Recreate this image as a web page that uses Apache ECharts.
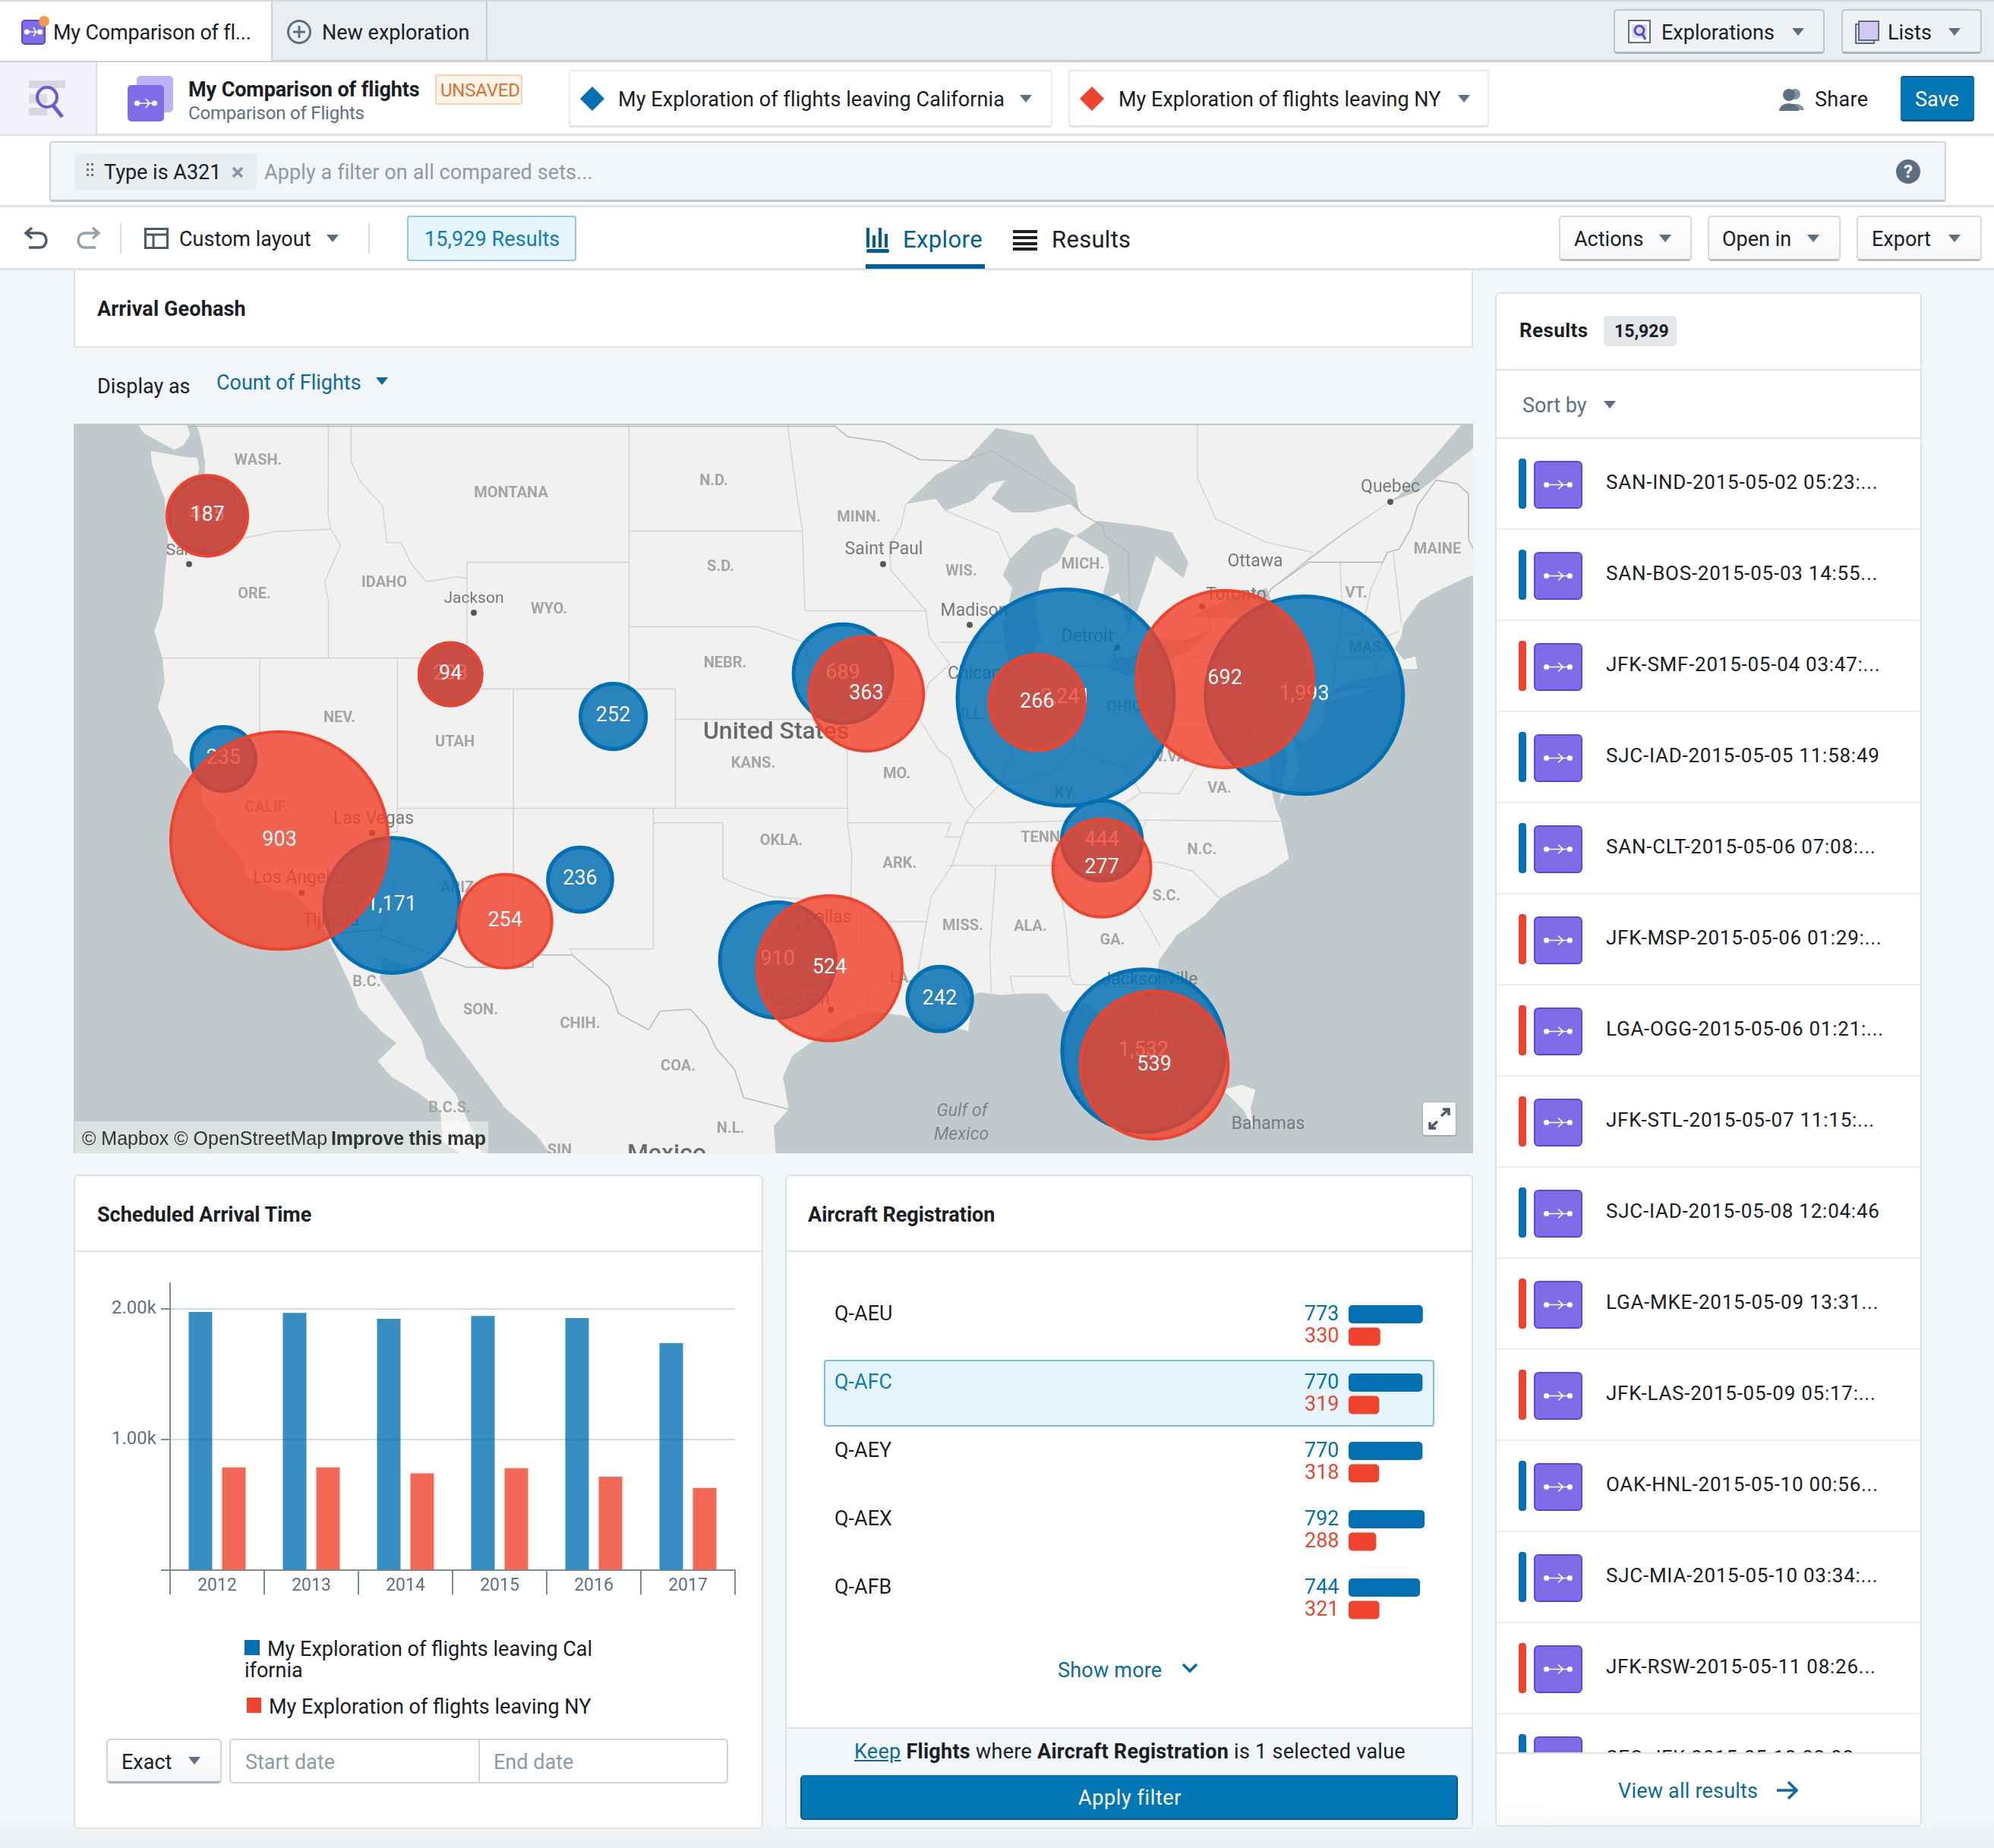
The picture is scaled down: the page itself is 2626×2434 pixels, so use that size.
<!DOCTYPE html>
<html>
<head>
<meta charset="utf-8">
<title>My Comparison of flights</title>
<script src="https://cdn.jsdelivr.net/npm/echarts@6/dist/echarts.min.js"></script>
<style>
html,body{margin:0;padding:0;}
body{width:2626px;height:2434px;overflow:hidden;background:linear-gradient(#F3F6F9 2400px,#E9EDF0 2434px);font-family:Roboto,sans-serif;color:#182026;position:relative;}
#page div{position:absolute;box-sizing:border-box;}
.t{white-space:nowrap;line-height:40px;height:40px;}
.chart{position:absolute;}
</style>
</head>
<body>
<div id="page"></div>
<div class="chart" id="mapChart" style="left:97px;top:560px;width:1843px;height:959px"></div>
<div class="chart" id="timeChart" style="left:97px;top:1660px;width:908px;height:470px"></div>
<div class="chart" id="regChart" style="left:1034px;top:1660px;width:906px;height:520px"></div>
<div id="over"></div>
<script>
// data
var setNames = ['My Exploration of flights leaving California', 'My Exploration of flights leaving NY'];

// geohash bubbles
var calCounts = [405, 208, 252, 235, 1171, 236, 910, 689, 2241, 1993, 444, 242, 1532];
var calLon = [-122.26, -111.76, -104.73, -121.56, -114.29, -106.16, -97.63, -94.81, -85.19, -74.89, -83.63, -90.63, -81.83];
var calLat = [46.40, 41.48, 40.10, 38.68, 33.58, 34.50, 31.59, 41.50, 40.72, 40.80, 35.88, 30.15, 28.20];
var nyCounts = [187, 94, 903, 254, 524, 363, 266, 692, 277, 539];
var nyLon = [-122.26, -111.76, -119.14, -109.40, -95.39, -93.80, -86.43, -78.32, -83.63, -81.37];
var nyLat = [46.40, 41.48, 35.88, 33.01, 31.29, 40.84, 40.56, 41.32, 34.91, 27.65];

// scheduled arrival time
var years = ['2012', '2013', '2014', '2015', '2016', '2017'];
var calByYear = [1974, 1967, 1922, 1944, 1928, 1735];
var nyByYear = [784, 784, 739, 778, 712, 627];
var yTicks = [0, 1000, 2000];

// aircraft registration
var regs = ['Q-AEU', 'Q-AFC', 'Q-AEY', 'Q-AEX', 'Q-AFB'];
var calByReg = [773, 770, 770, 792, 744];
var nyByReg = [330, 319, 318, 288, 321];

// results list, 0 = California set, 1 = NY set
var resultNames = ['SAN-IND-2015-05-02 05:23:...', 'SAN-BOS-2015-05-03 14:55...', 'JFK-SMF-2015-05-04 03:47:...', 'SJC-IAD-2015-05-05 11:58:49', 'SAN-CLT-2015-05-06 07:08:...', 'JFK-MSP-2015-05-06 01:29:...', 'LGA-OGG-2015-05-06 01:21:...', 'JFK-STL-2015-05-07 11:15:...', 'SJC-IAD-2015-05-08 12:04:46', 'LGA-MKE-2015-05-09 13:31...', 'JFK-LAS-2015-05-09 05:17:...', 'OAK-HNL-2015-05-10 00:56...', 'SJC-MIA-2015-05-10 03:34:...', 'JFK-RSW-2015-05-11 08:26...', 'SFO-JFK-2015-05-12 02:02...'];
var resultSets = [0, 0, 1, 0, 0, 1, 1, 1, 0, 1, 1, 0, 0, 1, 0];

var BLUE = '#0270B2', RED = '#EF432D', LINK = '#0A6A9E', GREY = '#5C7080';
var FONT = 'Roboto, sans-serif';

/* base map outlines, [lon, lat] */
var landShapes = [
	[[-125.4,49.2],[-125,48.8],[-123.7,48.33],[-123.3,48.45],[-123,48.75],[-123.2,49.2]],
	[[-122.9,49.2],[-122.65,48.9],[-122.45,48.4],[-122.35,47.9],[-122.4,47.4],[-122.85,47.15],[-122.6,47.8],[-122.7,48.1],[-123.2,48.12],[-124.7,48.3],[-124.65,47.9],[-124.1,46.9],[-124.05,46.25],[-123.95,45.6],[-124.1,44.6],[-124.2,43.6],[-124.55,42.85],[-124.2,42],[-124.1,41.2],[-124.4,40.4],[-123.8,39.4],[-123.7,38.9],[-123,38.3],[-122.5,37.8],[-122.5,37.2],[-121.9,36.6],[-121.9,36.3],[-120.7,35.2],[-120.6,34.6],[-119.3,34.15],[-118.5,34],[-118.2,33.75],[-117.3,33],[-117.12,32.53],[-116.7,31.8],[-116.05,30.6],[-115.7,29.8],[-114.7,28.9],[-114.1,28.5],[-114.9,27.8],[-114.3,27.2],[-113,26.5],[-112.2,25.9],[-112.1,24.7],[-111.5,24.3],[-110.9,24],[-110.3,24],[-111,25.5],[-111.5,26.5],[-112.8,27.9],[-113,28.6],[-114.8,30.9],[-114.7,31.7],[-113,31.2],[-112.2,29.3],[-111,27.9],[-109.4,26],[-108,24.9],[-107.3,24],[-97.7,24],[-97.8,25.3],[-97.15,25.95],[-97.4,27.2],[-97,28],[-95.9,28.7],[-94.8,29.3],[-93.8,29.7],[-92.3,29.55],[-91.3,29.3],[-90.2,29.1],[-89.4,28.95],[-89.3,29.6],[-89.6,30.15],[-88.9,30.4],[-88,30.3],[-87.2,30.35],[-86,30.35],[-85.3,29.65],[-84.3,30],[-83.6,29.5],[-82.8,28.8],[-82.7,27.8],[-82.2,26.8],[-81.8,26],[-81.1,25.15],[-80.4,25.2],[-80.05,26.6],[-80.5,28.2],[-81.2,29.6],[-81.4,30.4],[-81.15,31.6],[-80.4,32.5],[-79.2,33.2],[-78.5,33.85],[-77.8,34.2],[-76.5,34.7],[-75.55,35.25],[-75.9,36.6],[-76.1,36.95],[-76.3,37.6],[-76.4,38.8],[-76,39.3],[-75.6,38.9],[-75.95,37.2],[-75.3,38],[-75.05,38.7],[-75.3,39.2],[-75.5,39.6],[-74.9,39.2],[-74.1,39.8],[-74,40.45],[-74,40.7],[-73.7,40.9],[-72.9,41.25],[-71.4,41.45],[-70.9,41.6],[-70.6,41.65],[-70,41.65],[-70.1,42.05],[-70.6,41.95],[-71,42.3],[-70.7,42.7],[-70.6,43.1],[-69.9,43.8],[-68.9,44.2],[-67.8,44.55],[-67,44.7],[-67,49.2]],
	[[-74,40.6],[-72.6,40.8],[-71.9,41.05],[-72.7,41],[-73.7,40.85]],
	[[-78.4,26.7],[-77.6,26.9],[-77,26.7],[-77.2,26],[-77.1,25.2],[-77.5,25.9]]
];
var waterShapes = [
	[[-92.1,46.75],[-90.8,46.9],[-90.4,46.55],[-89.2,46.85],[-88.45,47.35],[-87.8,47.45],[-88.4,46.9],[-87.5,46.5],[-86.5,46.5],[-85,46.75],[-84.6,46.5],[-84.8,47.3],[-85.8,47.95],[-86.6,48.75],[-88.2,48.95],[-89.4,48.1],[-90.8,47.6]],
	[[-87.5,41.65],[-86.9,41.7],[-86.3,42.6],[-86.5,43.7],[-86.2,44.7],[-85.5,45],[-85,45.7],[-84.75,45.8],[-85.6,46.05],[-86.6,45.8],[-87.6,45.1],[-87.9,44.6],[-87.5,44.2],[-87.9,43],[-87.8,42.3]],
	[[-84.75,45.8],[-83.4,45.2],[-83.3,44.8],[-83.6,44],[-83.9,43.65],[-83.4,43.9],[-82.9,44.05],[-82.5,43],[-82.1,43.5],[-81.7,44.3],[-81.3,45.2],[-80.1,44.5],[-79.9,45],[-80.6,45.9],[-81.9,46.1],[-83.8,46.25]],
	[[-83.4,41.7],[-83.1,42.05],[-82.4,42],[-81.2,42.65],[-80,42.6],[-78.9,42.85],[-79.8,42.25],[-81.3,41.75],[-82.5,41.4]],
	[[-79.8,43.3],[-79.2,43.5],[-78,43.95],[-76.5,44.2],[-76.2,43.55],[-77.5,43.28],[-79,43.27]],
	[[-76.3,44.2],[-74.7,45.05],[-73,45.95],[-71.2,46.8],[-69.9,47.15],[-68.3,48],[-67,48.7],[-67,49.2],[-67.9,49.2],[-69.2,48.2],[-70.8,47],[-73,46],[-74.7,45.12]]
];
var stateLines = [
	[[-124.05,46.25],[-123.2,46.15],[-122.8,45.7],[-121.2,45.65],[-119.3,45.93],[-116.92,46]],
	[[-117.03,49.2],[-117.04,46.4],[-116.92,46],[-116.5,45.5],[-117.2,44.4],[-117.03,43.8],[-117.03,42]],
	[[-124.2,42],[-111.05,42]],
	[[-120,42],[-120,39],[-114.63,35],[-114.15,34.3],[-114.5,33.9],[-114.72,32.72]],
	[[-114.63,35],[-114.75,36.1],[-114.05,36.2]],
	[[-114.05,42],[-114.05,36.2]],
	[[-114.05,37],[-94.62,37]],
	[[-109.05,41],[-109.05,31.33]],
	[[-111.05,45],[-111.05,41],[-102.05,41]],
	[[-102.05,41],[-102.05,37]],
	[[-111.05,45],[-104.05,45]],
	[[-116.05,49.2],[-116.05,48],[-115.7,47.45],[-114.7,46.7],[-114.5,45.6],[-113.9,45.6],[-113.45,44.95],[-112.8,44.4],[-111.5,44.55],[-111.05,44.5]],
	[[-104.05,49.2],[-104.05,41]],
	[[-104.05,45.94],[-96.56,45.94]],
	[[-104.05,43],[-98.5,43],[-96.5,42.5]],
	[[-102.05,40],[-95.3,40]],
	[[-103,37],[-103,32],[-106.6,32],[-106.5,31.78]],
	[[-103,36.5],[-100,36.5],[-100,34.56],[-99,34.2],[-97.9,33.9],[-96.5,33.8],[-95,33.9],[-94.05,33.55],[-94.05,31.99],[-93.55,31.2],[-93.8,29.7]],
	[[-97.23,49.2],[-96.8,47],[-96.56,45.94],[-96.45,43.5]],
	[[-96.45,43.5],[-91.22,43.5]],
	[[-96.5,42.5],[-96,41],[-95.8,40.6],[-95.3,40],[-94.62,39.1],[-94.62,36.5]],
	[[-95.77,40.58],[-91.73,40.6]],
	[[-94.62,36.5],[-90.15,36.5],[-90.37,36],[-89.7,36]],
	[[-94.43,35.4],[-94.62,36.5]],
	[[-94.43,35.4],[-94.48,33.65]],
	[[-94.05,33],[-91.2,33]],
	[[-92.1,46.75],[-92.3,46.1],[-92.8,45.5],[-92.75,44.75],[-91.22,43.5],[-91.1,42.7],[-90.2,41.8],[-91.1,41.2],[-91.4,40.4],[-91.5,40],[-90.7,39],[-90.2,38.7],[-89.5,37.3],[-89.1,36.95],[-89.5,36.5],[-89.7,36],[-90.1,35],[-91,33.9],[-91.2,33],[-91.6,31]],
	[[-91.6,31],[-89.75,31],[-89.5,30.2]],
	[[-90.64,42.5],[-87.8,42.5]],
	[[-90.4,46.55],[-88.1,45.9],[-87.6,45.1]],
	[[-87.52,41.7],[-87.52,39.3],[-87.6,38.7],[-88.05,37.8]],
	[[-89.1,36.95],[-88.05,37.8],[-87,37.9],[-85.7,38.3],[-84.8,39.1],[-83.7,38.65],[-82.6,38.4],[-81.7,39.2],[-80.85,39.7],[-80.52,40.64]],
	[[-84.8,39.1],[-84.8,41.7]],
	[[-87.2,41.76],[-83.4,41.73]],
	[[-80.52,42],[-80.52,39.72],[-75.79,39.72]],
	[[-79.76,42.27],[-79.76,42],[-75.35,42],[-74.7,41.36]],
	[[-82.6,38.4],[-81.95,37.54],[-83.68,36.6]],
	[[-89.5,36.5],[-88.05,36.5],[-83.68,36.6],[-75.9,36.55]],
	[[-90.3,35],[-84.32,35]],
	[[-88.2,35],[-88.47,31.9],[-88.4,30.3]],
	[[-85.6,35],[-85.18,32.9],[-85,31],[-84.85,30.7]],
	[[-87.6,31],[-85,31]],
	[[-87.6,31],[-87.45,30.4]],
	[[-84.85,30.7],[-82.2,30.57],[-81.45,30.7]],
	[[-83.1,35],[-81.1,32.1]],
	[[-84.32,35],[-83.1,35],[-82.4,35.2],[-81,35.1],[-79.7,34.8],[-78.55,33.85]],
	[[-84.32,35],[-82,36.1],[-81.7,36.6]],
	[[-81.95,37.54],[-80.3,37.5],[-79.5,38.5],[-78.35,39.4],[-77.75,39.3],[-77.1,38.9],[-76.3,38]],
	[[-75.35,39.8],[-74.7,40.6],[-74.7,41.36]],
	[[-73.65,41],[-73.5,42.05],[-73.25,43.5],[-73.35,45]],
	[[-73.5,42.05],[-71.4,42.02]],
	[[-71.8,42.02],[-71.85,41.3]],
	[[-73.27,42.75],[-71.3,42.7],[-70.8,42.87]],
	[[-72.45,42.73],[-72,44.2],[-71.5,45]],
	[[-70.7,43.1],[-71.05,45.3]],
	[[-79.5,49.2],[-79.5,47.5],[-78.7,46.3],[-76.5,45.6],[-74.5,45.3]]
];
var borderLines = [
	[[-123.1,49],[-95.15,49],[-94.6,48.7],[-93,48.55],[-91.5,48.05],[-89.6,48],[-88.4,48.3],[-84.9,46.9],[-84.5,46.45],[-83.6,46.1],[-83.5,45.8],[-82.5,45.3],[-82.4,43],[-83.1,42.2],[-83.1,42],[-82.4,41.7],[-78.9,42.9],[-79.05,43.3],[-79.2,43.5],[-76.8,43.63],[-76.3,44.2],[-74.7,45],[-71.5,45],[-71.3,45.3],[-70.8,45.4],[-70.3,46],[-70,46.7],[-69.2,47.45],[-68.3,47.35],[-67.8,47.05],[-67.8,45.7],[-67.45,45.2]],
	[[-117.12,32.53],[-114.72,32.72],[-114.8,32.5],[-111.07,31.33],[-108.2,31.33],[-108.2,31.78],[-106.5,31.78],[-104.9,30.6],[-104.5,29.6],[-103.2,29],[-102.7,29.7],[-101.4,29.77],[-100.7,29.1],[-100.3,28.3],[-99.5,27.5],[-99.1,26.4],[-97.15,25.95]]
];
// place names, pixel spots inside the map panel: text, x, y, kind
var placeNames = [
	['WASH.',243,47,0],['MONTANA',576,90,0],['N.D.',843,74,0],['S.D.',852,187,0],['IDAHO',409,208,0],['ORE.',238,223,0],['WYO.',626,243,0],['NEBR.',858,314,0],['NEV.',350,386,0],['UTAH',502,418,0],['KANS.',895,446,0],['CALIF.',254,504,0],['ARIZ.',508,610,0],['OKLA.',932,548,0],['B.C.',386,734,0],['SON.',536,771,0],['CHIH.',667,789,0],['COA.',796,845,0],['B.C.S.',495,900,0],['N.L.',865,927,0],['SIN',640,956,0],
	['MINN.',1034,122,0],['WIS.',1169,193,0],['MICH.',1329,184,0],['ILL.',1185,382,0],['OHIO',1384,372,0],['MAINE',1796,164,0],['VT.',1689,222,0],['N.Y.',1595,275,0],['MASS.',1710,294,0],['MD.',1564,409,0],['W.VA.',1445,438,0],['KY.',1306,486,0],['MO.',1084,460,0],['VA.',1509,479,0],['TENN.',1276,544,0],['ARK.',1088,578,0],['N.C.',1486,560,0],['S.C.',1439,621,0],['MISS.',1171,660,0],['ALA.',1260,661,0],['GA.',1368,679,0],['LA.',1090,729,0],
	['Salem',151,166,4],['Jackson',527,229,4],['Las Vegas',395,519,1],['Los Angeles',299,597,1],['Tijuana',339,653,1],['Saint Paul',1067,164,1],['Madison',1186,245,1],['Chicago',1193,328,1],['Detroit',1335,279,1],['Toronto',1531,224,1],['Ottawa',1556,180,1],['Quebec',1734,82,1],['Dallas',993,649,1],['Houston',952,756,1],['Jacksonville',1417,731,1],['Bahamas',1573,921,1],
	['United States',925,405,2],['Mexico',781,961,2],['Gulf of',1170,904,3],['Mexico',1169,935,3]
];
// city dots, pixel spots inside the map panel
var placeDots = [[152,183],[527,247],[393,537],[300,616],[1066,183],[1180,263],[1374,293],[1486,239],[1734,101],[954,662],[997,770],[1416,750]];

// web mercator for the y scale of the map
function merc(lat) {
	return Math.log(Math.tan(Math.PI / 4 + lat * Math.PI / 360));
}

/* page furniture */
var h = [];
function box(x, y, w, ht, css, inner) {
	h.push('<div style="left:' + x + 'px;top:' + y + 'px;width:' + w + 'px;height:' + ht + 'px;' + (css || '') + '">' + (inner || '') + '</div>');
}
function txt(x, yc, s, size, color, css) {
	h.push('<div class="t" style="left:' + x + 'px;top:' + (yc - 19) + 'px;font-size:' + size + 'px;color:' + (color || '#182026') + ';' + (css || '') + '">' + s + '</div>');
}
function caret(x, y, color) {
	box(x - 8, y - 5, 0, 0, 'border-left:8px solid transparent;border-right:8px solid transparent;border-top:10px solid ' + (color || GREY) + ';');
}
function svg(x, y, w, ht, body) {
	box(x, y, w, ht, '', '<svg width="' + w + '" height="' + ht + '" viewBox="0 0 ' + w + ' ' + ht + '" style="display:block">' + body + '</svg>');
}
function flightGlyph(w, ht) {
	var c = ht / 2, l = w * 0.26, r = w * 0.74;
	return '<circle cx="' + l + '" cy="' + c + '" r="3.6" fill="#fff"/><circle cx="' + r + '" cy="' + c + '" r="3.6" fill="#fff"/>' +
		'<path d="M' + l + ' ' + c + 'H' + r + 'M' + (w * 0.5) + ' ' + (c - 6) + 'L' + (w * 0.6) + ' ' + c + 'L' + (w * 0.5) + ' ' + (c + 6) + '" stroke="#fff" stroke-width="1.6" fill="none"/>';
}
function diamond(cx, cy, color) {
	svg(cx - 16, cy - 16, 32, 32, '<path d="M16 1L31 16L16 31L1 16Z" fill="' + color + '" stroke="' + color + '" stroke-width="1.5" stroke-linejoin="round"/>');
}

// top tabs
box(0, 0, 2626, 82, 'background:#E8EEF1;border-bottom:3px solid #C9D0D4;border-top:2px solid #D3D9DC;');
box(0, 2, 357, 78, 'background:#fff;');
box(357, 2, 285, 78, 'border-left:2px solid #CDD4D8;border-right:2px solid #C5CCD1;');
svg(26, 20, 42, 40, '<rect x="3" y="7" width="30" height="31" rx="4" fill="#7F6DE8" stroke="#5B45DE" stroke-width="2"/>' + flightGlyph(36, 44) + '<circle cx="32" cy="8" r="7" fill="#F59A4B"/>');
txt(70, 42, 'My Comparison of fl...', 27, '#182026', 'letter-spacing:-.2px;');
svg(377, 25, 34, 34, '<circle cx="17" cy="17" r="14.5" fill="none" stroke="#5C7080" stroke-width="3"/><path d="M17 9V25M9 17H25" stroke="#5C7080" stroke-width="3"/>');
txt(424, 42, 'New exploration', 27);
box(2125, 12, 278, 59, 'background:#EEF2F4;border:2px solid #BFC7CC;border-bottom:3px solid #A9B4BB;border-radius:5px;');
svg(2143, 26, 34, 32, '<rect x="2" y="1" width="28" height="29" fill="#fff" stroke="#5C7080" stroke-width="2"/><rect x="6" y="6" width="20" height="18" fill="#DCDEE4"/><circle cx="16" cy="14" r="6" fill="none" stroke="#5B45DE" stroke-width="3"/><path d="M20 19L24 26" stroke="#5B45DE" stroke-width="3"/>');
txt(2188, 42, 'Explorations', 27);
caret(2368, 42);
box(2425, 12, 185, 59, 'background:#EEF2F4;border:2px solid #BFC7CC;border-bottom:3px solid #A9B4BB;border-radius:5px;');
svg(2443, 26, 34, 32, '<rect x="1" y="6" width="24" height="25" fill="#DDE2E6" stroke="#5C7080" stroke-width="2"/><rect x="5" y="2" width="26" height="25" fill="#CFC9F4" stroke="#5C7080" stroke-width="2"/>');
txt(2486, 42, 'Lists', 27);
caret(2574, 42);

// second bar
box(0, 82, 2626, 97, 'background:#fff;border-bottom:3px solid #DDE2E5;');
box(0, 82, 128, 95, 'background:#F3F2FC;border-right:2px solid #DAD6F5;');
svg(36, 104, 52, 52, '<rect x="2" y="2" width="48" height="10" fill="#D5D8DE"/><rect x="2" y="20" width="24" height="12" fill="#DADCE2"/><rect x="2" y="38" width="24" height="10" fill="#D5D8DE"/><circle cx="26" cy="24" r="13" fill="none" stroke="#6B5BD9" stroke-width="4"/><path d="M34 35L46 50" stroke="#6B5BD9" stroke-width="5"/>');
svg(168, 100, 60, 60, '<rect x="12" y="0" width="48" height="48" rx="5" fill="#BDB3F2"/><rect x="0" y="12" width="48" height="48" rx="5" fill="#7F6DE8"/><g transform="translate(0,12)">' + flightGlyph(48, 48) + '</g>');
txt(248, 117, 'My Comparison of flights', 27, '#182026', 'font-weight:700;letter-spacing:-.1px;');
txt(248, 148, 'Comparison of Flights', 24, GREY, 'letter-spacing:-.2px;');
box(573, 98, 115, 40, 'background:#FFF4E9;border:2px solid #F8D2AC;border-radius:4px;');
txt(580, 118, 'UNSAVED', 24, '#D9722C', 'letter-spacing:-.2px;');
box(749, 92, 637, 76, 'background:#fff;border:2px solid #E7E9EA;border-bottom:3px solid #E1E4E6;border-radius:4px;');
diamond(780, 130, BLUE);
txt(814, 130, setNames[0], 27, '#182026', 'letter-spacing:.08px;');
caret(1351, 130);
box(1407, 92, 554, 76, 'background:#fff;border:2px solid #E7E9EA;border-bottom:3px solid #E1E4E6;border-radius:4px;');
diamond(1438, 130, RED);
txt(1473, 130, setNames[1], 27);
caret(1928, 130);
svg(2342, 116, 36, 30, '<circle cx="22" cy="8" r="7" fill="#8294A1"/><path d="M12 29C12 18 32 18 34 29Z" fill="#8294A1"/><circle cx="14" cy="9" r="8" fill="#5C7080"/><path d="M1 30C2 17 26 17 27 30Z" fill="#5C7080"/>');
txt(2390, 130, 'Share', 27, '#182026', 'letter-spacing:.3px;');
box(2503, 100, 97, 60, 'background:#0277B6;border-bottom:3px solid #045A88;border-top:2px solid #045A88;border-radius:4px;');
txt(2522, 130, 'Save', 27, '#fff');

// filter bar
box(0, 179, 2626, 94, 'background:#fff;border-bottom:3px solid #DDE2E5;');
box(65, 186, 2498, 80, 'background:#F3F6F9;border:2px solid #CFD6DB;border-bottom:3px solid #BDC6CC;border-radius:4px;');
box(98, 202, 240, 48, 'background:#E8EDF0;border-radius:5px;');
svg(114, 215, 10, 24, '<g fill="#5C7080"><rect x="0" y="0" width="3" height="3"/><rect x="6" y="0" width="3" height="3"/><rect x="0" y="7" width="3" height="3"/><rect x="6" y="7" width="3" height="3"/><rect x="0" y="14" width="3" height="3"/><rect x="6" y="14" width="3" height="3"/></g>');
txt(137, 226, 'Type is A321', 27);
svg(304, 218, 18, 18, '<path d="M3 3L15 15M15 3L3 15" stroke="#8294A1" stroke-width="3.5"/>');
txt(348, 226, 'Apply a filter on all compared sets...', 27, '#8A9BA8', 'letter-spacing:.1px;');
svg(2497, 210, 32, 32, '<circle cx="16" cy="16" r="16" fill="#5C7080"/><text x="16" y="24" text-anchor="middle" font-size="24" font-weight="700" fill="#fff" font-family="Roboto">?</text>');

// toolbar
box(0, 273, 2626, 83, 'background:#fff;border-bottom:3px solid #DDE2E5;');
svg(30, 298, 34, 32, '<path d="M12 2L4 9L12 16M5 9H22C34 9 34 28 22 28H8" fill="none" stroke="#4A5C6A" stroke-width="3.5"/>');
svg(100, 298, 34, 32, '<path d="M22 2L30 9L22 16M29 9H12C0 9 0 28 12 28H26" fill="none" stroke="#93A2AD" stroke-width="3.5"/>');
box(158, 294, 2, 40, 'background:#D8DDE0;');
svg(190, 300, 32, 28, '<rect x="1.5" y="1.5" width="29" height="25" fill="none" stroke="#4A5C6A" stroke-width="3"/><path d="M1 9H31M12 9V27" stroke="#4A5C6A" stroke-width="3"/>');
txt(236, 314, 'Custom layout', 27);
caret(438, 314);
box(485, 294, 2, 40, 'background:#D8DDE0;');
box(536, 284, 223, 60, 'background:#E6F4FB;border:2px solid #8CC8E4;border-radius:4px;');
txt(559, 314, '15,929 Results', 27, '#0A7DB8', 'letter-spacing:.1px;');
svg(1141, 300, 30, 34, '<path d="M2 0V26M10 10V26M18 0V26M26 8V26" stroke="#005F96" stroke-width="4"/><rect x="0" y="28" width="30" height="5" rx="2" fill="#005F96"/>');
txt(1189, 315, 'Explore', 31, '#005F96', 'letter-spacing:.4px;');
box(1140, 348, 157, 6, 'background:#005F96;');
svg(1334, 302, 32, 28, '<path d="M0 3H32M0 11H32M0 19H32M0 26H32" stroke="#182026" stroke-width="4"/>');
txt(1385, 315, 'Results', 31, '#182026', 'letter-spacing:.3px;');
box(2053, 284, 175, 60, 'border:2px solid #D5DADE;border-bottom:3px solid #B7C0C6;border-radius:5px;background:linear-gradient(#fff,#F5F7F9);');
txt(2073, 314, 'Actions', 27);
caret(2193, 314);
box(2249, 284, 175, 60, 'border:2px solid #D5DADE;border-bottom:3px solid #B7C0C6;border-radius:5px;background:linear-gradient(#fff,#F5F7F9);');
txt(2268, 314, 'Open in', 27);
caret(2388, 314);
box(2445, 284, 165, 60, 'border:2px solid #D5DADE;border-bottom:3px solid #B7C0C6;border-radius:5px;background:linear-gradient(#fff,#F5F7F9);');
txt(2465, 314, 'Export', 27);
caret(2574, 314);

// map card
box(97, 356, 1843, 1163, 'background:#fff;border-left:2px solid #DDE2E5;border-right:2px solid #DDE2E5;');
txt(128, 406, 'Arrival Geohash', 27, '#182026', 'font-weight:700;letter-spacing:.15px;');
box(97, 456, 1843, 104, 'background:#F3F6F9;border-top:2px solid #DDE2E5;border-bottom:2px solid #BFC7CC;');
txt(128, 508, 'Display as', 27);
txt(285, 503, 'Count of Flights', 27, LINK);
caret(503, 502, LINK);

// time card
box(97, 1547, 908, 862, 'background:#fff;border:2px solid #DDE2E5;border-radius:6px;');
box(97, 1647, 908, 2, 'background:#DDE2E5;');
txt(128, 1599, 'Scheduled Arrival Time', 27, '#182026', 'font-weight:700;');
box(322, 2160, 20, 20, 'background:' + BLUE + ';');
txt(352, 2171, setNames[0].slice(0, 37), 27);
txt(322, 2199, setNames[0].slice(37), 27);
box(325, 2236, 19, 20, 'background:' + RED + ';');
txt(354, 2247, setNames[1], 27);
box(140, 2290, 152, 59, 'background:linear-gradient(#fff,#F3F6F8);border:2px solid #CFD6DB;border-bottom:3px solid #A9B4BB;border-radius:5px;');
txt(160, 2320, 'Exact', 27);
caret(256, 2319);
box(302, 2290, 657, 59, 'background:#fff;border:2px solid #CFD6DB;border-radius:5px;');
box(630, 2290, 2, 59, 'background:#CFD6DB;');
txt(323, 2320, 'Start date', 27, '#8A9BA8');
txt(650, 2320, 'End date', 27, '#8A9BA8');

// registration card
box(1034, 1547, 906, 862, 'background:#fff;border:2px solid #DDE2E5;border-radius:6px;');
box(1034, 1647, 906, 2, 'background:#DDE2E5;');
txt(1064, 1599, 'Aircraft Registration', 27, '#182026', 'font-weight:700;');
box(1085, 1791, 804, 88, 'background:#E6F4FB;border:2px solid #7DBDE0;border-radius:4px;');
txt(1393, 2199, 'Show more', 27, LINK, 'letter-spacing:.2px;');
svg(1556, 2190, 22, 14, '<path d="M2 2L11 11L20 2" fill="none" stroke="' + LINK + '" stroke-width="3.5"/>');
box(1036, 2275, 902, 132, 'background:#F3F6F9;border-top:2px solid #DDE2E5;border-radius:0 0 6px 6px;');
txt(1125, 2306, '<span style="color:#0A6A9E;text-decoration:underline">Keep</span> <b>Flights</b> where <b>Aircraft Registration</b> is 1 selected value', 27, '#182026', 'letter-spacing:.27px;');
box(1054, 2338, 866, 59, 'background:#0277B6;border:2px solid #045A88;border-top-color:#0277B6;border-radius:5px;');
txt(1420, 2367, 'Apply filter', 27, '#fff', 'letter-spacing:.6px;');

// results card
box(1969, 385, 562, 2021, 'background:#fff;border:2px solid #DDE2E5;border-radius:6px;overflow:hidden;');
txt(2001, 434, 'Results', 26, '#182026', 'font-weight:700;letter-spacing:.4px;');
box(2112, 416, 96, 40, 'background:#E4E8EB;border-radius:5px;');
txt(2126, 436, '15,929', 23, '#182026', 'font-weight:700;');
box(1971, 486, 558, 2, 'background:#DDE2E5;');
txt(2005, 533, 'Sort by', 27, GREY);
caret(2120, 533);
box(1971, 576, 558, 2, 'background:#DDE2E5;');
resultNames.forEach(function (name, i) {
	var top = 577 + 120 * i;
	var ch = resultSets[i] ? RED : BLUE;
	box(2000, top + 27, 10, 66, 'background:' + ch + ';border-radius:4px;');
	svg(2020, top + 30, 64, 63, '<rect x="1" y="1" width="62" height="61" rx="5" fill="#7F6DE8" stroke="#5B45DE" stroke-width="2"/>' + flightGlyph(64, 63));
	txt(2115, top + 57, name, 26, '#182026', 'letter-spacing:.75px;');
	if (i < resultNames.length - 1) {
		box(1971, top + 119, 558, 2, 'background:#EDF0F2;');
	}
});
document.getElementById('page').innerHTML = h.join('');

// footer of results has to cover row 15
h = [];
box(1971, 2308, 558, 96, 'background:linear-gradient(#fff 70%,#F7F8F9);border-top:2px solid #DDE2E5;border-radius:0 0 6px 6px;');
txt(2131, 2358, 'View all results', 27, LINK, 'letter-spacing:.2px;');
svg(2338, 2344, 32, 28, '<path d="M2 14H28M17 3L28 14L17 25" fill="none" stroke="' + LINK + '" stroke-width="3.5"/>');
// map overlays
box(98, 1477, 545, 42, 'background:rgba(255,255,255,.45);');
txt(108, 1498, '© Mapbox © OpenStreetMap', 25, '#333', 'font-family:\'Liberation Sans\';');
txt(436, 1498, 'Improve this map', 25, '#333', 'font-family:\'Liberation Sans\';font-weight:700;letter-spacing:-.2px;');
box(1874, 1452, 43, 43, 'background:#fff;border-radius:3px;box-shadow:0 1px 3px rgba(0,0,0,.3);');
svg(1880, 1459, 31, 29, '<path d="M18 11L28 2M20 2H28V10M13 18L3 27M11 27H3V19" fill="none" stroke="#4A5C6A" stroke-width="3.5"/>');
var over = document.getElementById('over');
over.style.position = 'absolute';
over.style.left = '0';
over.style.top = '0';
over.innerHTML = h.join('').replace(/<div style="/g, '<div style="position:absolute;box-sizing:border-box;').replace(/<div class="t" style="/g, '<div class="t" style="position:absolute;');

/* map */
var mapChart = echarts.init(document.getElementById('mapChart'));

function shapeSeries(shapes, type, style, z) {
	return {
		type: 'custom',
		coordinateSystem: 'cartesian2d',
		silent: true,
		clip: false,
		z: z,
		data: shapes.map(function (s, i) { return [i]; }),
		renderItem: function (params, api) {
			var pts = shapes[params.dataIndex].map(function (p) {
				return api.coord([p[0], merc(p[1])]);
			});
			return { type: type, shape: { points: pts }, style: style };
		}
	};
}

function bubbleSeries(name, lons, lats, counts, base, slope, fill, stroke, bw, z) {
	return {
		name: name,
		type: 'scatter',
		z: z,
		clip: false,
		data: counts.map(function (c, i) { return [lons[i], merc(lats[i]), c]; }),
		symbolSize: function (d) { return 2 * (base + slope * d[2]); },
		itemStyle: { color: fill, borderColor: stroke, borderWidth: bw, opacity: 1 },
		label: {
			show: true,
			position: 'inside',
			color: '#fff',
			fontFamily: FONT,
			fontSize: 27,
			formatter: function (p) { return p.value[2].toLocaleString('en-US'); }
		}
	};
}

var placeStyles = [
	{ font: '700 20px ' + FONT, fill: '#A2A5A6' },
	{ font: '400 23px ' + FONT, fill: '#77797A' },
	{ font: '500 32px ' + FONT, fill: '#666A6C' },
	{ font: 'italic 400 23px ' + FONT, fill: '#7A8587' },
	{ font: '400 21px ' + FONT, fill: '#77797A' }
];
var placeGraphics = placeNames.map(function (p) {
	var st = placeStyles[p[3]];
	return {
		type: 'text', x: p[1], y: p[2], z: 2, silent: true,
		style: { text: p[0], font: st.font, fill: st.fill, align: 'center', verticalAlign: 'middle' }
	};
}).concat(placeDots.map(function (d) {
	return { type: 'circle', z: 2, silent: true, shape: { cx: d[0], cy: d[1], r: 4 }, style: { fill: '#55595B' } };
}));

mapChart.setOption({
	animation: false,
	backgroundColor: '#C0C9CB',
	grid: { left: 0, right: 0, top: 0, bottom: 0 },
	xAxis: { type: 'value', min: -128.03, max: -67.6, show: false },
	yAxis: { type: 'value', min: merc(24.23), max: merc(49.03), show: false },
	graphic: placeGraphics,
	series: [
		shapeSeries(landShapes, 'polygon', { fill: '#F1F1F0' }, 1),
		shapeSeries(waterShapes, 'polygon', { fill: '#C0C9CB' }, 1),
		shapeSeries(stateLines, 'polyline', { fill: 'none', stroke: '#D2D3D3', lineWidth: 1.5 }, 1),
		shapeSeries(borderLines, 'polyline', { fill: 'none', stroke: '#B4B8BA', lineWidth: 1.5 }, 1),
		bubbleSeries(setNames[0], calLon, calLat, calCounts, 30.5, 0.05, 'rgba(2,112,178,.84)', BLUE, 5, 3),
		bubbleSeries(setNames[1], nyLon, nyLat, nyCounts, 29.5, 0.126, 'rgba(241,64,40,.8)', RED, 4, 4)
	]
});

/* scheduled arrival time */
var timeChart = echarts.init(document.getElementById('timeChart'));
timeChart.setOption({
	animation: false,
	grid: { left: 127, top: 30, width: 744, height: 377.5 },
	xAxis: {
		type: 'category',
		data: years,
		axisLine: { lineStyle: { color: '#7B8E9C', width: 2 } },
		axisTick: { show: true, alignWithLabel: false, length: 33, lineStyle: { color: '#7B8E9C', width: 2 } },
		axisLabel: { color: GREY, fontFamily: FONT, fontSize: 23, margin: 10 }
	},
	yAxis: {
		type: 'value',
		min: 0,
		max: 2195,
		interval: 1000,
		axisLine: { show: true, lineStyle: { color: '#7B8E9C', width: 2 } },
		axisTick: { show: true, length: 12, lineStyle: { color: '#7B8E9C', width: 2 }, customValues: yTicks },
		axisLabel: {
			color: GREY, fontFamily: FONT, fontSize: 24, margin: 18,
			customValues: yTicks.slice(1),
			formatter: function (v) { return (v / 1000).toFixed(2) + 'k'; }
		},
		splitLine: { lineStyle: { color: '#CFDDE6', width: 2 }, showMinLine: false }
	},
	series: [
		{ name: setNames[0], type: 'bar', data: calByYear, barWidth: 31, barGap: '42%', itemStyle: { color: BLUE, opacity: 0.8 } },
		{ name: setNames[1], type: 'bar', data: nyByYear, barWidth: 31, barGap: '42%', itemStyle: { color: RED, opacity: 0.8 } }
	]
});

/* aircraft registration */
var regChart = echarts.init(document.getElementById('regChart'));
function regSeries(name, values, color) {
	return {
		name: name,
		type: 'bar',
		data: values,
		barWidth: 24,
		barGap: '23%',
		itemStyle: { color: color, borderRadius: 5 },
		label: {
			show: true,
			position: [-58, '50%'],
			align: 'left',
			verticalAlign: 'middle',
			offset: [0, 1],
			color: color,
			fontFamily: FONT,
			fontSize: 27
		}
	};
}
regChart.setOption({
	animation: false,
	grid: { left: 742, top: 40.75, width: 126.5, height: 450 },
	xAxis: { type: 'value', min: 0, max: 1000, show: false },
	yAxis: {
		type: 'category',
		inverse: true,
		data: regs,
		axisLine: { show: false },
		axisTick: { show: false },
		axisLabel: {
			fontFamily: FONT,
			fontSize: 27,
			align: 'left',
			margin: 677,
			lineHeight: 27,
			verticalAlign: 'bottom',
			color: function (v) { return v === 'Q-AFC' ? '#0A7DB8' : '#182026'; }
		}
	},
	series: [regSeries(setNames[0], calByReg, BLUE), regSeries(setNames[1], nyByReg, RED)]
});
</script>
</body>
</html>
